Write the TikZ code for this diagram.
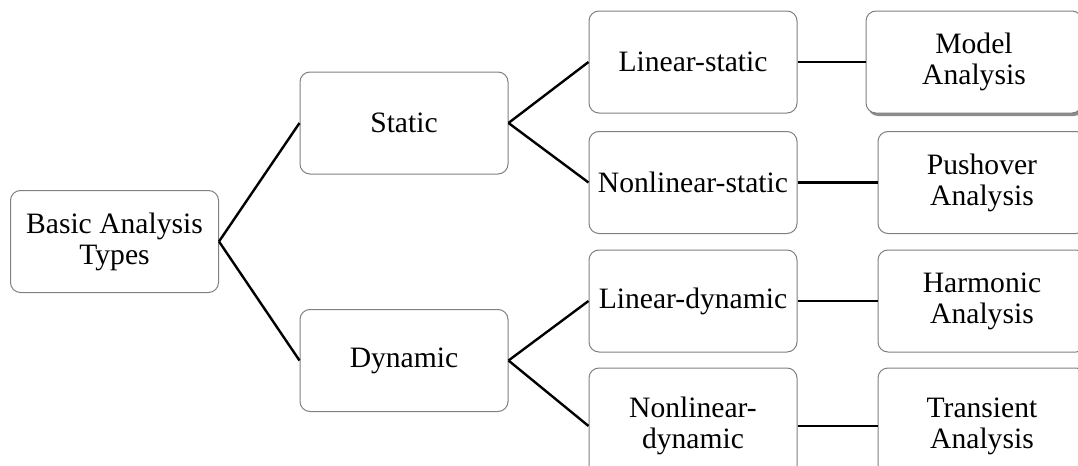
\documentclass[tikz,border=0pt]{standalone}
\usepackage{fontspec}
\setmainfont{Liberation Serif}
\usetikzlibrary{shadows}

\begin{document}
\begin{tikzpicture}[x=0.5pt, y=-0.5pt,
  box/.style={draw=black!50, line width=0.5pt, rounded corners=5pt, fill=white,
    minimum width=104pt, minimum height=51pt, inner sep=2pt, align=center,
    font=\fontsize{14.8}{15.5}\selectfont},
  widebox/.style={box, minimum width=108pt},
  tallbox/.style={box, minimum height=58pt},
  link/.style={black, line width=1.2pt}]
\useasboundingbox (0,0) rectangle (1078,466);
\clip (0,0) rectangle (1078,466);

% first and second level
\node [box] (types) at (114.5,241.5) {Basic Analysis\\Types};
\node [box] (static) at (404,123) {Static};
\node [box] (dynamic) at (404,360.5) {Dynamic};

% third level
\node [box] (linstat) at (693,62) {Linear-static};
\node [box] (nonstat) at (693,182.5) {Nonlinear-static};
\node [box] (lindyn) at (693,301) {Linear-dynamic};
\node [tallbox] (nondyn) at (693,426) {Nonlinear-\\dynamic};

% analyses
\node [widebox, copy shadow={shadow xshift=1pt, shadow yshift=-1.5pt, fill=black!45, draw=none}] (model) at (974,62) {Model\\Analysis};
\node [box] (push) at (982,182.5) {Pushover\\Analysis};
\node [box] (harm) at (982,301) {Harmonic\\Analysis};
\node [tallbox] (trans) at (982,426) {Transient\\Analysis};

\draw [link] (types.east) -- (static.west);
\draw [link] (types.east) -- (dynamic.west);
\draw [link] (static.east) -- (linstat.west);
\draw [link] (static.east) -- (nonstat.west);
\draw [link] (dynamic.east) -- (lindyn.west);
\draw [link] (dynamic.east) -- (nondyn.west);
\draw [link] (linstat.east) -- (model.west);
\draw [link] (nonstat.east) -- (push.west);
\draw [link] (lindyn.east) -- (harm.west);
\draw [link] (nondyn.east) -- (trans.west);
\end{tikzpicture}
\end{document}
